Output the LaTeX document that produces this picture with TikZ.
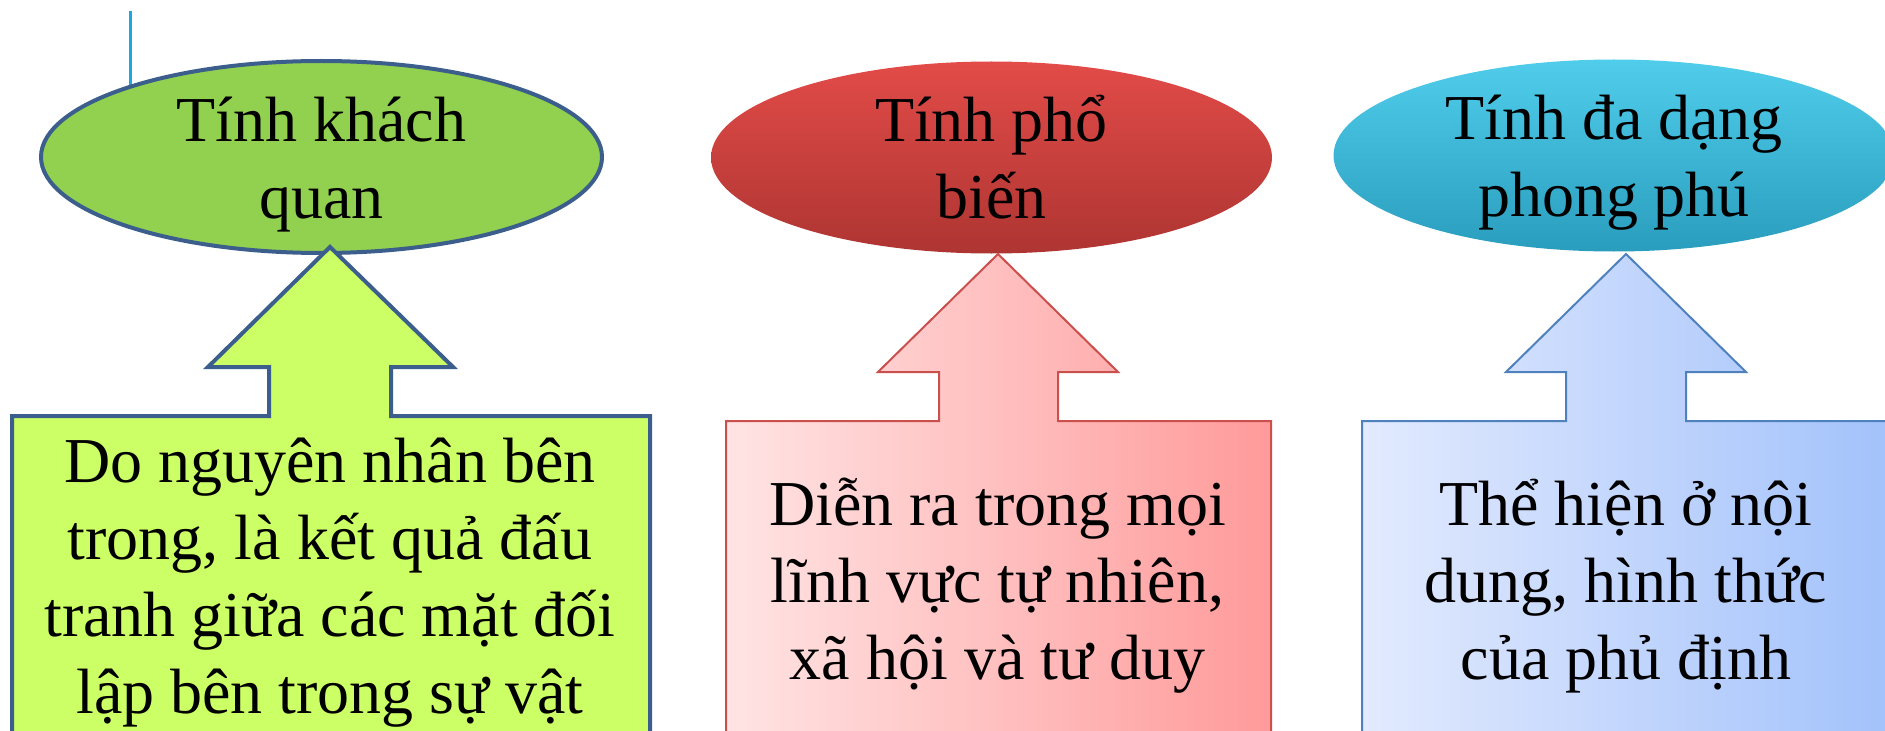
\documentclass[tikz,border=0pt]{standalone}
\usepackage{fontspec}
\setmainfont{Liberation Serif}
\usetikzlibrary{shapes.geometric}
\definecolor{edgeBlue}{HTML}{3B5E8C}
\definecolor{leafGreen}{HTML}{92D050}
\definecolor{limeFill}{HTML}{CCFF66}
\definecolor{redTop}{HTML}{E24B48}
\definecolor{redBot}{HTML}{AE3532}
\definecolor{redEdge}{HTML}{C9504D}
\definecolor{pinkL}{HTML}{FFE4E4}
\definecolor{pinkR}{HTML}{FF9A9A}
\definecolor{cyanTop}{HTML}{50CDEB}
\definecolor{cyanBot}{HTML}{2A9DBD}
\definecolor{skyEdge}{HTML}{4F81BD}
\definecolor{skyL}{HTML}{E2EAFE}
\definecolor{skyR}{HTML}{A3C2FB}
\definecolor{tickBlue}{HTML}{1BA7E0}

\begin{document}
\begin{tikzpicture}[
    x=0.5pt, y=0.5pt,
    font=\fontsize{32}{38.5}\selectfont,
    oval/.style={ellipse, inner sep=0pt, minimum width=280.5pt,
      minimum height=96pt},
    ovaltext/.style={align=center, inner sep=0pt, anchor=base, yshift=-30.5pt},
    callout/.style={line join=miter},
    boxtext/.style={align=center, inner sep=0pt, anchor=base},
  ]
\useasboundingbox (0,0) rectangle (1885,730);
\clip (0,0) rectangle (1885,730);

% stray tick behind the first oval
\coordinate (tickTop) at (130,719);
\coordinate (tickEnd) at (130,640);
\draw[tickBlue, line width=1.5pt] (tickTop) -- (tickEnd);

% Ovals
\node[oval, fill=leafGreen, draw=edgeBlue, line width=2pt] (kq) at (321.5,573) {};
\node[oval, top color=redTop, bottom color=redBot] (pb) at (991.5,572.5) {};
\node[oval, top color=cyanTop, bottom color=cyanBot] (dd) at (1614,574.5) {};

% Oval titles (anchored on the baseline of the last line)
\node[ovaltext] (kqLabel) at (kq.center) {Tính khách\\quan};
\node[ovaltext] (pbLabel) at (pb.center) {Tính phổ\\biến};
\node[ovaltext] (ddLabel) at (dd.center) {Tính đa dạng\\phong phú};

% Arrow tips under each oval
\coordinate (kqTip) at (330,483);
\coordinate (pbTip) at (998,476);
\coordinate (ddTip) at (1626,476);

% Up-arrow callouts
\draw[callout, fill=limeFill, draw=edgeBlue, line width=2pt]
  (kqTip) -- ++(123,-120) -- ++(-62,0) -- ++(0,-49) -- ++(259,0) -- ++(0,-329)
  -- ++(-638,0) -- ++(0,329) -- ++(257,0) -- ++(0,49) -- ++(-61,0) -- cycle;
\draw[callout, left color=pinkL, right color=pinkR, draw=redEdge, line width=1pt]
  (pbTip) -- ++(120,-118) -- ++(-60,0) -- ++(0,-49) -- ++(213,0) -- ++(0,-324)
  -- ++(-545,0) -- ++(0,324) -- ++(213,0) -- ++(0,49) -- ++(-61,0) -- cycle;
\draw[callout, left color=skyL, right color=skyR, draw=skyEdge, line width=1pt]
  (ddTip) -- ++(120,-118) -- ++(-60,0) -- ++(0,-49) -- ++(204,0) -- ++(0,-324)
  -- ++(-528,0) -- ++(0,324) -- ++(204,0) -- ++(0,49) -- ++(-60,0) -- cycle;

% Texts in the callouts (placed on the baseline of their last line)
\node[boxtext] (kqText) at (330,17) {Do nguyên nhân bên\\trong, là kết quả đấu\\tranh giữa các mặt đối\\lập bên trong sự vật};
\node[boxtext] (pbText) at (997.5,51) {Diễn ra trong mọi\\lĩnh vực tự nhiên,\\xã hội và tư duy};
\node[boxtext] (ddText) at (1626,51) {Thể hiện ở nội\\dung, hình thức\\của phủ định};

\end{tikzpicture}
\end{document}
